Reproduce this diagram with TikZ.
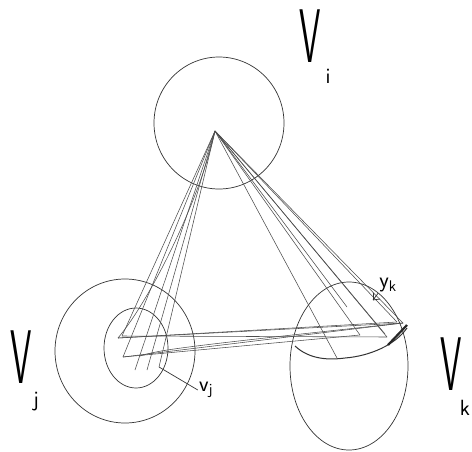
\documentclass[tikz,border=0pt]{standalone}
\usepackage{graphicx}
\begin{document}
\begin{tikzpicture}[x=1pt,y=-1pt,
  pen/.style={draw=black!80,line width=0.7pt},
  edge/.style={draw=black!70,line width=0.55pt},
  bigV/.style={inner sep=0pt,font=\fontsize{76}{76}\selectfont\sffamily},
  sub/.style={inner sep=0pt,font=\fontsize{22}{22}\selectfont\sffamily}]
\useasboundingbox (0,0) rectangle (472,451);
% sets
\draw[pen] (219,123) ellipse [x radius=65,y radius=66];
\draw[pen] (125,351) ellipse [x radius=70,y radius=72];
\draw[pen] (136,348) ellipse [x radius=32,y radius=40];
\draw[pen] (349,366) ellipse [x radius=59,y radius=84];
\draw[pen,line width=1pt] (295,346) .. controls (310,360) and (330,360) .. (345,358) .. controls (370,356) and (395,345) .. (407,328);
% vertices
\coordinate (a) at (215,131);
\coordinate (l1) at (118,338);
\coordinate (l2) at (122,336);
\coordinate (l3) at (123,357);
\coordinate (l4) at (135,370);
\coordinate (l5) at (147,370);
\coordinate (l6) at (159,367);
\coordinate (r1) at (337,358);
\coordinate (r2) at (360,335);
\coordinate (r3) at (387,337);
\coordinate (r4) at (347,307);
\coordinate (r5) at (397,322);
\coordinate (r6) at (403,323);
\coordinate (r7) at (385,334);
% edges from apex
\foreach \p in {l2,l3,l4,l5,l6,r1,r2,r3,r4,r5,r6,r7} \draw[edge] (a) -- (\p);
\draw[edge] (a) .. controls (200,200) and (150,300) .. (l1);
% horizontal edges
\draw[edge] (l1) -- (r5);
\draw[edge] (l1) -- (r6);
\draw[edge] (l2) -- (r3);
\draw[edge] (l3) -- (r2);
\draw[edge] (l3) -- (r6);
\draw[edge] (140,356) .. controls (160,350) and (170,348) .. (r6);
% thick scribble
\draw[black!85,line width=2.2pt] (388,345) -- (407,325);
% labels
\node[bigV] (Vi) at (310,36) {\scalebox{0.45}[1]{V}};
\node[sub] (i) at (328,76) {i};
\node[bigV] (Vj) at (21,357) {\scalebox{0.45}[1]{V}};
\node[sub] (j) at (36,402) {j};
\node[bigV] (Vk) at (451,364) {\scalebox{0.45}[1]{V}};
\node[sub] (k) at (465,408) {k};
\node[font=\fontsize{22}{22}\selectfont\sffamily,inner sep=1pt] (vj) at (206,390) {v\textsubscript{j}};
\draw[pen] (l6) -- (vj.west);
\node[font=\fontsize{22}{22}\selectfont\sffamily,inner sep=1pt] (yk) at (388,285) {y\textsubscript{k}};
\draw[pen] (yk.south west) -- (373,300);
\draw[pen] (373,300) -- (373,293);
\draw[pen] (373,300) -- (380,299);
\end{tikzpicture}
\end{document}
